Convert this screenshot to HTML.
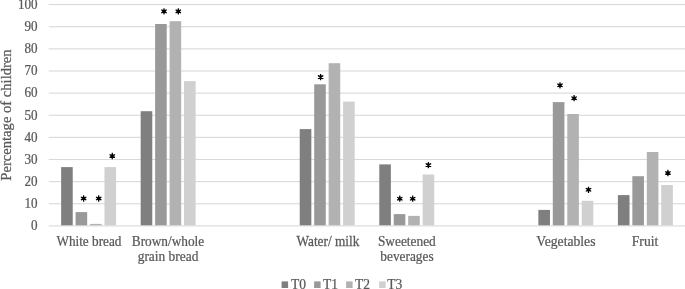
<!DOCTYPE html>
<html><head><meta charset="utf-8"><style>
html,body{margin:0;padding:0;background:#fff;}
body{width:685px;height:289px;overflow:hidden;}
svg{display:block;}
#txt{font-family:"Liberation Serif",serif;font-size:13.8px;fill:#595959;stroke:#595959;stroke-width:0.25px;opacity:0.999;}
</style></head><body>
<svg width="685" height="289" viewBox="0 0 685 289">
<rect width="685" height="289" fill="#fff"/>
<g id="shp">
<rect x="48.7" y="225.35" width="636.30" height="1.1" fill="#d9d9d9"/>
<rect x="48.7" y="203.22" width="636.30" height="1.1" fill="#d9d9d9"/>
<rect x="48.7" y="181.09" width="636.30" height="1.1" fill="#d9d9d9"/>
<rect x="48.7" y="158.96" width="636.30" height="1.1" fill="#d9d9d9"/>
<rect x="48.7" y="136.83" width="636.30" height="1.1" fill="#d9d9d9"/>
<rect x="48.7" y="114.70" width="636.30" height="1.1" fill="#d9d9d9"/>
<rect x="48.7" y="92.57" width="636.30" height="1.1" fill="#d9d9d9"/>
<rect x="48.7" y="70.44" width="636.30" height="1.1" fill="#d9d9d9"/>
<rect x="48.7" y="48.31" width="636.30" height="1.1" fill="#d9d9d9"/>
<rect x="48.7" y="26.18" width="636.30" height="1.1" fill="#d9d9d9"/>
<rect x="48.7" y="4.05" width="636.30" height="1.1" fill="#d9d9d9"/>
<rect x="61.13" y="167.10" width="11.6" height="58.20" fill="#7f7f7f"/>
<rect x="75.58" y="212.10" width="11.6" height="13.20" fill="#999999"/>
<rect x="90.03" y="223.90" width="11.6" height="1.40" fill="#b2b2b2"/>
<rect x="104.48" y="167.10" width="11.6" height="58.20" fill="#d0d0d0"/>
<rect x="140.67" y="111.20" width="11.6" height="114.10" fill="#7f7f7f"/>
<rect x="155.12" y="24.00" width="11.6" height="201.30" fill="#999999"/>
<rect x="169.57" y="21.20" width="11.6" height="204.10" fill="#b2b2b2"/>
<rect x="184.02" y="81.10" width="11.6" height="144.20" fill="#d0d0d0"/>
<rect x="299.74" y="129.10" width="11.6" height="96.20" fill="#7f7f7f"/>
<rect x="314.19" y="84.30" width="11.6" height="141.00" fill="#999999"/>
<rect x="328.64" y="63.20" width="11.6" height="162.10" fill="#b2b2b2"/>
<rect x="343.09" y="101.60" width="11.6" height="123.70" fill="#d0d0d0"/>
<rect x="379.28" y="164.40" width="11.6" height="60.90" fill="#7f7f7f"/>
<rect x="393.73" y="214.10" width="11.6" height="11.20" fill="#999999"/>
<rect x="408.18" y="215.90" width="11.6" height="9.40" fill="#b2b2b2"/>
<rect x="422.63" y="174.50" width="11.6" height="50.80" fill="#d0d0d0"/>
<rect x="538.36" y="209.90" width="11.6" height="15.40" fill="#7f7f7f"/>
<rect x="552.81" y="102.10" width="11.6" height="123.20" fill="#999999"/>
<rect x="567.26" y="114.00" width="11.6" height="111.30" fill="#b2b2b2"/>
<rect x="581.71" y="200.80" width="11.6" height="24.50" fill="#d0d0d0"/>
<rect x="617.90" y="195.10" width="11.6" height="30.20" fill="#7f7f7f"/>
<rect x="632.35" y="176.20" width="11.6" height="49.10" fill="#999999"/>
<rect x="646.80" y="152.00" width="11.6" height="73.30" fill="#b2b2b2"/>
<rect x="661.25" y="185.00" width="11.6" height="40.30" fill="#d0d0d0"/>
<path d="M83.05 201.65L82.70 198.50L83.05 195.35L84.15 195.35L84.50 198.50L84.15 201.65ZM86.05 200.55L83.15 199.28L80.60 197.40L81.15 196.45L84.05 197.72L86.60 199.60ZM80.60 199.60L83.15 197.72L86.05 196.45L86.60 197.40L84.05 199.28L81.15 200.55Z"/>
<path d="M98.15 201.65L97.80 198.50L98.15 195.35L99.25 195.35L99.60 198.50L99.25 201.65ZM101.15 200.55L98.25 199.28L95.70 197.40L96.25 196.45L99.15 197.72L101.70 199.60ZM95.70 199.60L98.25 197.72L101.15 196.45L101.70 197.40L99.15 199.28L96.25 200.55Z"/>
<path d="M111.75 159.15L111.40 156.00L111.75 152.85L112.85 152.85L113.20 156.00L112.85 159.15ZM114.75 158.05L111.85 156.78L109.30 154.90L109.85 153.95L112.75 155.22L115.30 157.10ZM109.30 157.10L111.85 155.22L114.75 153.95L115.30 154.90L112.75 156.78L109.85 158.05Z"/>
<path d="M163.45 14.50L163.10 11.35L163.45 8.20L164.55 8.20L164.90 11.35L164.55 14.50ZM166.45 13.40L163.55 12.13L161.00 10.25L161.55 9.30L164.45 10.57L167.00 12.45ZM161.00 12.45L163.55 10.57L166.45 9.30L167.00 10.25L164.45 12.13L161.55 13.40Z"/>
<path d="M177.75 14.50L177.40 11.35L177.75 8.20L178.85 8.20L179.20 11.35L178.85 14.50ZM180.75 13.40L177.85 12.13L175.30 10.25L175.85 9.30L178.75 10.57L181.30 12.45ZM175.30 12.45L177.85 10.57L180.75 9.30L181.30 10.25L178.75 12.13L175.85 13.40Z"/>
<path d="M320.05 80.25L319.70 77.10L320.05 73.95L321.15 73.95L321.50 77.10L321.15 80.25ZM323.05 79.15L320.15 77.88L317.60 76.00L318.15 75.05L321.05 76.32L323.60 78.20ZM317.60 78.20L320.15 76.32L323.05 75.05L323.60 76.00L321.05 77.88L318.15 79.15Z"/>
<path d="M399.25 201.85L398.90 198.70L399.25 195.55L400.35 195.55L400.70 198.70L400.35 201.85ZM402.25 200.75L399.35 199.48L396.80 197.60L397.35 196.65L400.25 197.92L402.80 199.80ZM396.80 199.80L399.35 197.92L402.25 196.65L402.80 197.60L400.25 199.48L397.35 200.75Z"/>
<path d="M412.15 201.85L411.80 198.70L412.15 195.55L413.25 195.55L413.60 198.70L413.25 201.85ZM415.15 200.75L412.25 199.48L409.70 197.60L410.25 196.65L413.15 197.92L415.70 199.80ZM409.70 199.80L412.25 197.92L415.15 196.65L415.70 197.60L413.15 199.48L410.25 200.75Z"/>
<path d="M427.85 168.25L427.50 165.10L427.85 161.95L428.95 161.95L429.30 165.10L428.95 168.25ZM430.85 167.15L427.95 165.88L425.40 164.00L425.95 163.05L428.85 164.32L431.40 166.20ZM425.40 166.20L427.95 164.32L430.85 163.05L431.40 164.00L428.85 165.88L425.95 167.15Z"/>
<path d="M559.45 88.45L559.10 85.30L559.45 82.15L560.55 82.15L560.90 85.30L560.55 88.45ZM562.45 87.35L559.55 86.08L557.00 84.20L557.55 83.25L560.45 84.52L563.00 86.40ZM557.00 86.40L559.55 84.52L562.45 83.25L563.00 84.20L560.45 86.08L557.55 87.35Z"/>
<path d="M573.55 101.35L573.20 98.20L573.55 95.05L574.65 95.05L575.00 98.20L574.65 101.35ZM576.55 100.25L573.65 98.98L571.10 97.10L571.65 96.15L574.55 97.42L577.10 99.30ZM571.10 99.30L573.65 97.42L576.55 96.15L577.10 97.10L574.55 98.98L571.65 100.25Z"/>
<path d="M587.95 192.95L587.60 189.80L587.95 186.65L589.05 186.65L589.40 189.80L589.05 192.95ZM590.95 191.85L588.05 190.58L585.50 188.70L586.05 187.75L588.95 189.02L591.50 190.90ZM585.50 190.90L588.05 189.02L590.95 187.75L591.50 188.70L588.95 190.58L586.05 191.85Z"/>
<path d="M667.35 176.15L667.00 173.00L667.35 169.85L668.45 169.85L668.80 173.00L668.45 176.15ZM670.35 175.05L667.45 173.78L664.90 171.90L665.45 170.95L668.35 172.22L670.90 174.10ZM664.90 174.10L667.45 172.22L670.35 170.95L670.90 171.90L668.35 173.78L665.45 175.05Z"/>
<rect x="281.6" y="281.4" width="6.5" height="6.6" fill="#7f7f7f"/>
<rect x="314.1" y="281.4" width="6.5" height="6.6" fill="#999999"/>
<rect x="346.1" y="281.4" width="6.5" height="6.6" fill="#b2b2b2"/>
<rect x="379.1" y="281.4" width="6.5" height="6.6" fill="#d0d0d0"/>
</g>
<g id="txt">
<text transform="translate(37.60,230.20) scale(0.9529,1)" text-anchor="end">0</text>
<text transform="translate(37.60,208.07) scale(0.9529,1)" text-anchor="end">10</text>
<text transform="translate(37.60,185.94) scale(0.9529,1)" text-anchor="end">20</text>
<text transform="translate(37.60,163.81) scale(0.9529,1)" text-anchor="end">30</text>
<text transform="translate(37.60,141.68) scale(0.9529,1)" text-anchor="end">40</text>
<text transform="translate(37.60,119.55) scale(0.9529,1)" text-anchor="end">50</text>
<text transform="translate(37.60,97.42) scale(0.9529,1)" text-anchor="end">60</text>
<text transform="translate(37.60,75.29) scale(0.9529,1)" text-anchor="end">70</text>
<text transform="translate(37.60,53.16) scale(0.9529,1)" text-anchor="end">80</text>
<text transform="translate(37.60,31.03) scale(0.9529,1)" text-anchor="end">90</text>
<text transform="translate(37.60,8.90) scale(0.9529,1)" text-anchor="end">100</text>
<text transform="translate(88.89,245.60) scale(0.9590,1)" text-anchor="middle">White bread</text>
<text transform="translate(168.01,245.60) scale(0.9651,1)" text-anchor="middle">Brown/whole</text>
<text transform="translate(168.03,260.50) scale(0.9723,1)" text-anchor="middle">grain bread</text>
<text transform="translate(327.95,245.60) scale(0.9672,1)" text-anchor="middle">Water/ milk</text>
<text transform="translate(406.84,245.60) scale(0.9688,1)" text-anchor="middle">Sweetened</text>
<text transform="translate(406.95,260.50) scale(0.9668,1)" text-anchor="middle">beverages</text>
<text transform="translate(565.92,245.60) scale(0.9897,1)" text-anchor="middle">Vegetables</text>
<text transform="translate(645.01,245.60) scale(0.9856,1)" text-anchor="middle">Fruit</text>
<text transform="translate(290.90,289.30) scale(0.9800,1)">T0</text>
<text transform="translate(323.10,289.30) scale(0.9800,1)">T1</text>
<text transform="translate(355.10,289.30) scale(0.9800,1)">T2</text>
<text transform="translate(387.30,289.30) scale(0.9800,1)">T3</text>
<text transform="translate(10.9,115) rotate(-90)" text-anchor="middle" style="font-size:14.6px">Percentage of children</text>
</g>
</svg>
</body></html>
